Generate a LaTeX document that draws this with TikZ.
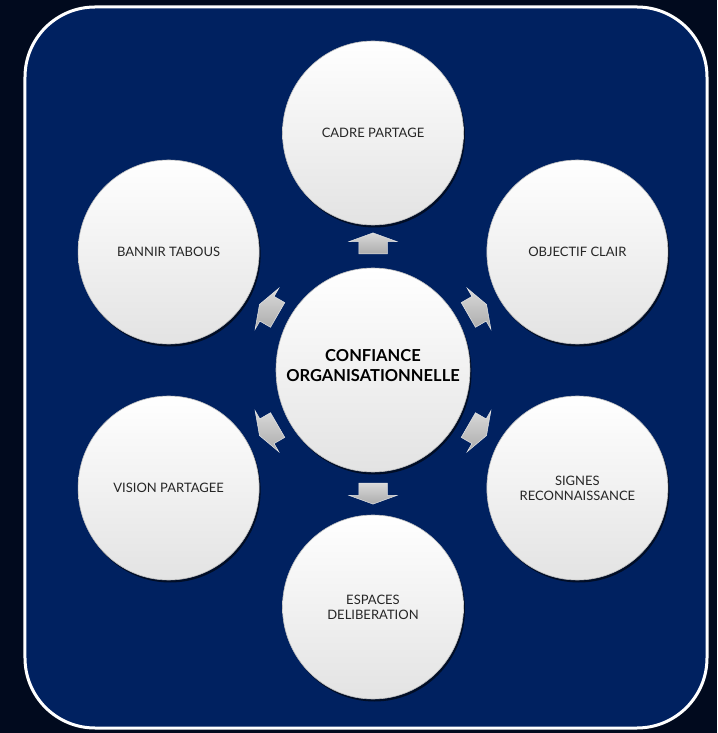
\documentclass[tikz,border=0pt]{standalone}
\usepackage{fontspec}
\setmainfont{Lato}
\usetikzlibrary{shapes.geometric,shapes.arrows,shadows}
\definecolor{nightbg}{RGB}{1,10,30}
\definecolor{panelblue}{RGB}{0,33,96}
\tikzset{
  bulle/.style={ellipse, minimum width=181pt, minimum height=184pt, inner sep=0pt,
    top color=white, bottom color=gray!22, draw=gray!50, line width=0.6pt,
    drop shadow={shadow xshift=1.5pt, shadow yshift=-2.5pt, opacity=0.6, fill=black},
    align=center, font=\fontsize{13}{15}\selectfont, text=black!85},
  coeur/.style={bulle, minimum width=194pt, minimum height=204pt},
  coeurtexte/.style={align=center, font=\bfseries\fontsize{16.5}{20}\selectfont, text=black},
  fleche/.style={single arrow, minimum height=21pt, inner xsep=0pt, inner ysep=14pt,
    single arrow head extend=9.5pt, single arrow tip angle=140,
    top color=gray!30, bottom color=gray!65, draw=gray!20, line width=0.5pt}
}
\begin{document}
\begin{tikzpicture}[x=1pt,y=1pt]
	\fill[nightbg] (-373,-363) rectangle (344,370);
	\useasboundingbox (-373,-363) rectangle (344,370);
	\filldraw[fill=panelblue, draw=white, line width=3pt, rounded corners=70pt] (-348,-358) rectangle (334,363);
	% outer circles
	\node[bulle] (cadre) at (90:237) {CADRE PARTAGE};
	\node[bulle] (objectif) at (30:236) {OBJECTIF CLAIR};
	\node[bulle] (signes) at (-30:236) {SIGNES\\RECONNAISSANCE};
	\node[bulle] (espaces) at (-90:237) {ESPACES\\DELIBERATION};
	\node[bulle] (vision) at (210:236) {VISION PARTAGEE};
	\node[bulle] (bannir) at (150:236) {BANNIR TABOUS};
	% arrows
	\node[fleche, rotate=90] (a1) at (90:124) {};
	\node[fleche, rotate=30] (a2) at (30:118) {};
	\node[fleche, rotate=-30] (a3) at (-30:118) {};
	\node[fleche, rotate=-90] (a4) at (-90:121) {};
	\node[fleche, rotate=210] (a5) at (210:118) {};
	\node[fleche, rotate=150] (a6) at (150:118) {};
	% centre
	\node[coeur] (confiance) at (0,0) {};
	\node[coeurtexte] (titre) at ([yshift=4pt]confiance.center) {CONFIANCE\\ORGANISATIONNELLE};
\end{tikzpicture}
\end{document}
